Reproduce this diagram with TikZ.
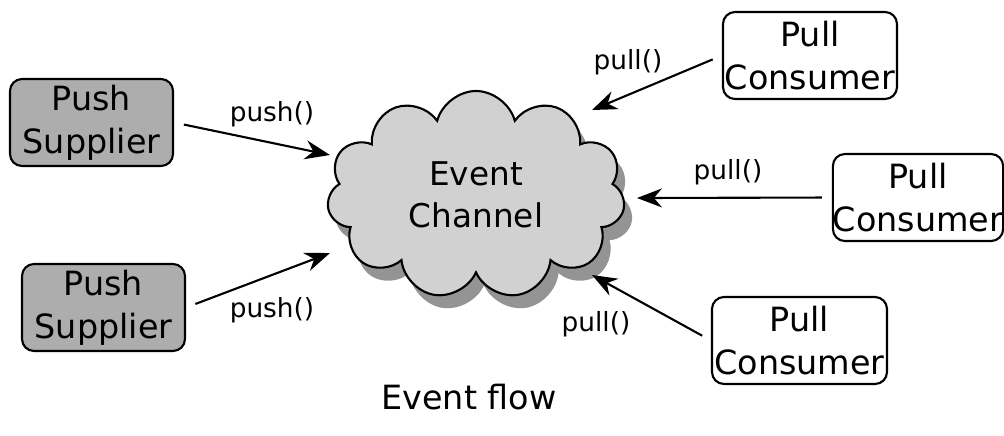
\documentclass[tikz,border=0pt]{standalone}
\usepackage{fontspec}
\setmainfont{DejaVu Sans}
\usetikzlibrary{shapes.symbols,shadows,arrows.meta}

\begin{document}
\begin{tikzpicture}[
  box/.style={draw,rounded corners=0.12cm,line width=0.6pt,align=center,inner sep=0pt,
    minimum height=0.87cm,font=\fontsize{9.5}{12.2}\selectfont},
  supplier/.style={box,fill=black!32,minimum width=1.63cm},
  consumer/.style={box,fill=white,minimum width=1.74cm},
  call/.style={font=\fontsize{7.5}{9}\selectfont},
  flow/.style={-{Stealth[length=2.5mm,width=1.9mm]},line width=0.6pt,shorten <=1mm}]
\useasboundingbox (0,0) rectangle (10.04,-4.35);
% the channel and its shadow
\node[cloud,cloud puffs=11,aspect=1.5,draw,line width=0.6pt,fill=black!18,
  minimum width=2.98cm,minimum height=2.08cm,align=center,font=\fontsize{9.3}{12}\selectfont,
  drop shadow={shadow xshift=0.8mm,shadow yshift=-1.3mm,fill=black!42,opacity=1}]
  (ec) at (4.76,-1.95) {Event\\Channel};
% suppliers push into it
\node[supplier] (ps1) at (0.915,-1.225) {Push\\Supplier};
\node[supplier] (ps2) at (1.035,-3.075) {Push\\Supplier};
% consumers pull from it
\node[consumer] (pc1) at (8.10,-0.555) {Pull\\Consumer};
\node[consumer,minimum width=1.70cm] (pc2) at (9.18,-1.975) {Pull\\Consumer};
\node[consumer,minimum width=1.75cm] (pc3) at (7.995,-3.405) {Pull\\Consumer};
% arrow tips at the cloud
\coordinate (in1) at (3.30,-1.55);
\coordinate (in2) at (3.30,-2.53);
\coordinate (out1) at (5.92,-1.10);
\coordinate (out2) at (6.37,-1.98);
\coordinate (out3) at (5.92,-2.75);
\draw[flow] (ps1.east) -- (in1);
\draw[flow] (ps2.east) -- (in2);
\draw[flow] (pc1.west) -- (out1);
\draw[flow] (pc2.west) -- (out2);
\draw[flow] (pc3.west) -- (out3);
\node[call] (l1) at (2.72,-1.14) {push()};
\node[call] (l2) at (2.72,-3.10) {push()};
\node[call] (l3) at (6.28,-0.62) {pull()};
\node[call] (l4) at (7.28,-1.72) {pull()};
\node[call] (l5) at (5.96,-3.24) {pull()};
\node[font=\fontsize{9.5}{12}\selectfont] (cap) at (4.69,-3.97) {Event flow};
\end{tikzpicture}
\end{document}
